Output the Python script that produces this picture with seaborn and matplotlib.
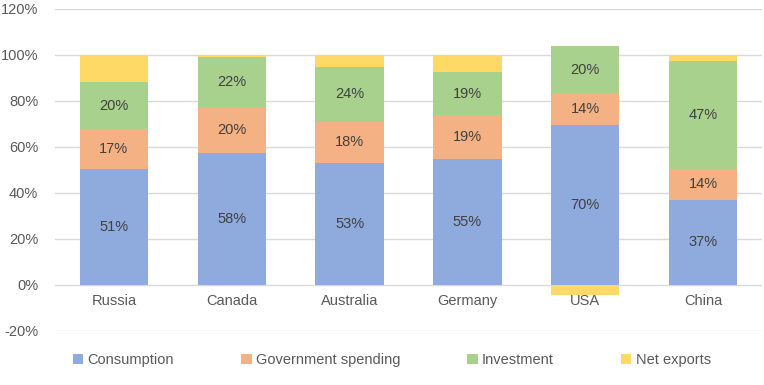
import numpy as np
import pandas as pd
import matplotlib
matplotlib.use("Agg")
import matplotlib.pyplot as plt
import seaborn as sns
from matplotlib.patches import Patch

# 데이터
countries = ["Russia", "Canada", "Australia", "Germany", "USA", "China"]
consumption = [50.6, 57.6, 53.0, 54.6, 69.5, 37.0]
government = [17.2, 19.9, 18.0, 19.3, 14.0, 13.6]
investment = [20.4, 21.8, 23.8, 18.7, 20.3, 47.0]
net_exports = [11.8, 0.7, 5.2, 7.4, -4.2, 2.4]

series_names = ["Consumption", "Government spending", "Investment", "Net exports"]
colors = ["#8FAADC", "#F4B183", "#A9D18E", "#FFD966"]

sns.set_theme(style="white")
plt.rcParams["font.family"] = ["Liberation Sans", "DejaVu Sans"]

fig = plt.figure(figsize=(7.64, 3.85), dpi=100)
ax = fig.add_axes([55 / 764, 1 - 331 / 385, 707 / 764, 322 / 385])

df = pd.DataFrame({"country": countries, "Consumption": consumption,
                   "Government spending": government, "Investment": investment,
                   "Net exports": net_exports})

# 누적 막대
bottom = np.zeros(len(countries))
for name, col in zip(series_names, colors):
    vals = df[name].to_numpy()
    base = np.where(vals < 0, 0, bottom)
    sns.barplot(x=df["country"], y=vals, bottom=base, color=col, width=0.58,
                ax=ax, saturation=1, edgecolor="none", linewidth=0)
    bars = ax.containers[-1]
    if name != "Net exports":
        ax.bar_label(bars, labels=[f"{v:.0f}%" for v in vals], label_type="center",
                     fontsize=10.5, color="#404040")
    bottom = bottom + np.where(vals > 0, vals, 0)

ax.set_ylim(-20, 120)
ax.set_xlim(-0.5, 5.5)
ax.set_yticks(range(-20, 121, 20))
ax.set_yticklabels([f"{t}%" for t in range(-20, 121, 20)], fontsize=10.5, color="#595959")
ax.tick_params(axis="y", length=0, pad=12)
ax.set_xlabel("")
ax.set_ylabel("")
ax.grid(axis="y", color="#D9D9D9", linewidth=1)
ax.set_axisbelow(True)
for s in ax.spines.values():
    s.set_visible(False)

# x 라벨은 0% 바로 아래에
ax.set_xticks(range(len(countries)))
ax.set_xticklabels([])
ax.tick_params(axis="x", length=0)
for i, c in enumerate(countries):
    ax.text(i, -7, c, ha="center", va="center", fontsize=10.5, color="#595959")

handles = [Patch(facecolor=c, edgecolor="none") for c in colors]
fig.legend(handles, series_names, loc="center left", bbox_to_anchor=(60 / 764, 1 - 360 / 385),
           ncol=4, frameon=False, fontsize=10.5, labelcolor="#595959",
           handlelength=0.7, handleheight=0.7, handletextpad=0.3, columnspacing=4.6)

fig.savefig("out.png", dpi=100)
